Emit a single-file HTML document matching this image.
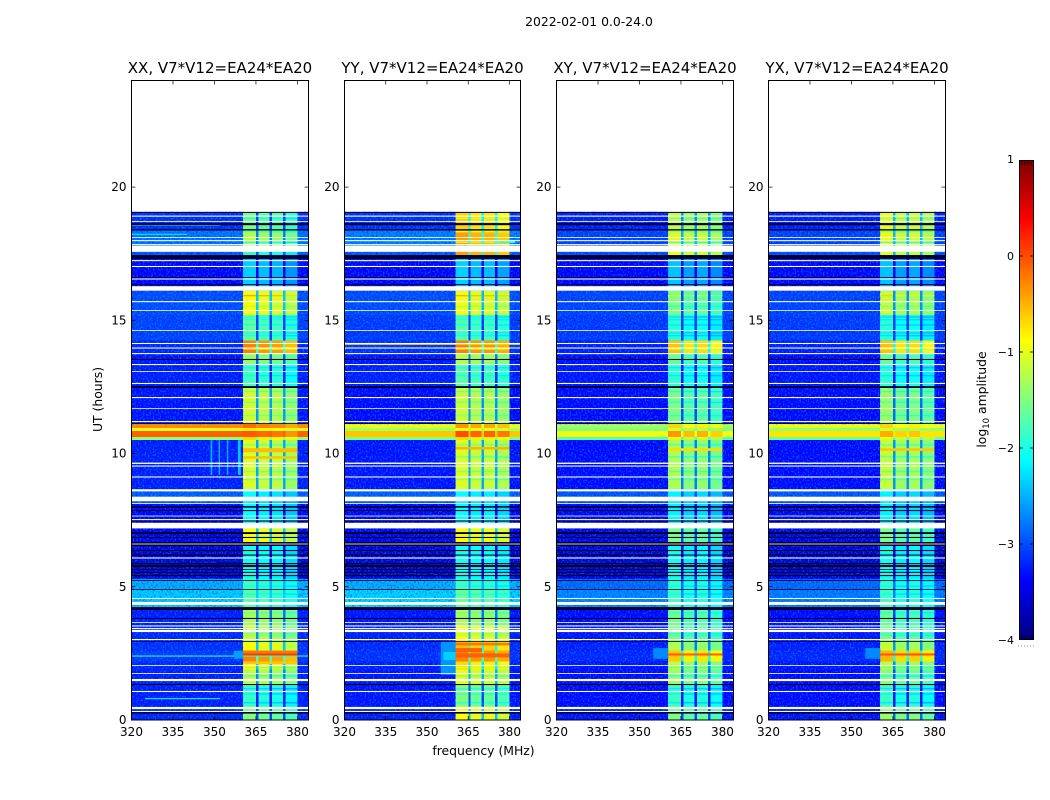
<!DOCTYPE html>
<html>
<head>
<meta charset="utf-8">
<title>2022-02-01 0.0-24.0</title>
<style>
html,body{margin:0;padding:0;background:#fff;}
svg{display:block;}
text{font-family:"DejaVu Sans","Liberation Sans",sans-serif;fill:#000;}
</style>
</head>
<body>
<svg id="chart" xmlns="http://www.w3.org/2000/svg" width="1050" height="800" viewBox="0 0 1050 800">
<defs>
<filter id="speckleLight" x="0" y="0" width="1" height="1" color-interpolation-filters="sRGB" filterUnits="objectBoundingBox">
<feTurbulence type="fractalNoise" baseFrequency="0.6 0.55" numOctaves="1" seed="4"/>
<feColorMatrix type="matrix" values="0 0 0 0 0  0 0 0 0 0.7  0 0 0 0 1  5 0 0 0 -2.4"/>
</filter>
<filter id="speckleDark" x="0" y="0" width="1" height="1" color-interpolation-filters="sRGB" filterUnits="objectBoundingBox">
<feTurbulence type="fractalNoise" baseFrequency="0.55 0.6" numOctaves="1" seed="9"/>
<feColorMatrix type="matrix" values="0 0 0 0 0  0 0 0 0 0  0 0 0 0 0.95  5 0 0 0 -2.5"/>
</filter>
<linearGradient id="jetGradient" x1="0" y1="1" x2="0" y2="0"></linearGradient>
</defs>
<text x="589" y="26" font-size="12.4" text-anchor="middle">2022-02-01 0.0-24.0</text>
<text x="483.5" y="755" font-size="12.4" text-anchor="middle">frequency (MHz)</text>
<text x="0" y="0" font-size="12.4" text-anchor="middle" transform="translate(102,399.5) rotate(-90)">UT (hours)</text>
<text x="0" y="0" font-size="12.4" text-anchor="middle" transform="translate(986,399.5) rotate(-90)">log<tspan font-size="8.5" dy="3">10</tspan><tspan dy="-3"> amplitude</tspan></text>
<g id="panels"></g>
<g id="colorbar"></g>
</svg>
<script>
/* ---- axes ---- */
const panelNames = ['XX','YY','XY','YX'];
const baselineLabel = 'V7*V12=EA24*EA20';
const freqTicks = [320,335,350,365,380];
const timeTicks = [0,5,10,15,20];
const colorTicks = [1,0,-1,-2,-3,-4];

/* ---- time zones (UT hours) ---- */
const zoneEdges = [0,0.5,1.3,1.9,2.2,2.6,3.0,3.5,4.2,4.9,5.3,6.53,7.19,8.1,8.38,8.66,10.5,10.62,10.84,10.95,11.1,12.5,13.35,13.75,14.25,15.2,16.1,17.3,17.57,18.4,19.07];

/* ---- log10 amplitude outside the passband, per zone ---- */
const bgXX = [-3.2,-3.25,-3.25,-3.2,-3.1,-3.15,-3.2,-3.25,-2.35,-2.5,-3.6,-3.5,-3.4,-2.95,-2.9,-3.25,-1.4,-0.1,-1.0,-0.3,-3.3,-3.25,-3.3,-3.2,-3.05,-3.0,-3.4,-2.95,-2.8,-3.15];
const bgYY = [-3.25,-3.3,-3.3,-3.25,-3.15,-3.2,-3.25,-3.3,-2.3,-2.5,-3.6,-3.5,-3.4,-2.95,-2.9,-3.3,-1.5,-0.6,-1.3,-1.0,-3.35,-3.25,-3.3,-3.15,-3.1,-3.0,-3.4,-2.95,-2.75,-3.15];
const bgXY = [-3.3,-3.35,-3.35,-3.3,-3.2,-3.25,-3.3,-3.35,-2.7,-2.85,-3.6,-3.55,-3.4,-3.0,-2.95,-3.35,-1.7,-0.95,-1.5,-1.3,-3.35,-3.3,-3.35,-3.25,-3.1,-3.05,-3.4,-3.0,-3.05,-3.25];
const bgYX = [-3.3,-3.35,-3.35,-3.3,-3.2,-3.25,-3.3,-3.35,-2.75,-2.85,-3.6,-3.55,-3.4,-3.0,-2.95,-3.35,-1.6,-0.75,-1.4,-1.0,-3.35,-3.3,-3.35,-3.25,-3.1,-3.05,-3.4,-3.0,-3.05,-3.25];

/* ---- log10 amplitude inside the passband, per zone ---- */
const bandXX = [-1.6,-1.95,-1.3,-1.0,-0.35,-1.0,-1.25,-1.4,-1.8,-1.9,-2.1,-1.0,-2.2,-2.3,-2.2,-1.15,-0.8,-0.15,-0.9,-0.25,-1.2,-1.9,-1.5,-0.35,-1.75,-1.0,-2.45,-2.0,-1.35,-1.65];
const bandYY = [-1.0,-1.6,-1.1,-0.8,-0.35,-0.65,-1.0,-1.4,-1.7,-1.9,-2.1,-0.95,-2.2,-2.3,-2.2,-1.15,-0.8,-0.1,-1.0,-0.45,-1.25,-1.8,-1.35,-0.35,-1.8,-1.05,-2.45,-0.5,-0.5,-0.75];
const bandXY = [-1.6,-1.9,-1.45,-1.3,-0.7,-1.35,-1.6,-1.65,-1.9,-1.95,-2.1,-1.6,-2.25,-2.3,-2.25,-1.35,-1.05,-0.45,-1.2,-0.75,-1.6,-2.0,-1.7,-0.65,-2.0,-1.6,-2.5,-1.0,-1.1,-1.25];
const bandYX = [-1.45,-1.9,-1.55,-1.3,-0.6,-1.25,-1.6,-1.7,-1.9,-1.95,-2.1,-1.6,-2.25,-2.3,-2.25,-1.25,-1.05,-0.55,-1.2,-0.75,-1.45,-2.0,-1.7,-0.65,-2.0,-1.25,-2.5,-1.1,-1.05,-1.05];

/* ---- frequency structure (MHz) ---- */
const freqEdges = [320,360.4,365.0,365.9,369.9,370.8,374.8,375.7,380,384];
const columnKinds = ['bg','sb0','notch','sb1','notch','sb2','notch','sb3','bg'];
const offsetXX = [0.1,0.0,-0.05,-0.2];
const offsetYY = [0.1,0.0,0.0,-0.12];
const offsetXY = [0.08,-0.1,-0.05,-0.2];
const offsetYX = [0.08,-0.1,-0.05,-0.2];
const notchDrop = [1.4];

/* ---- passband row stripes: UT hours and dimming in log10 amplitude ---- */
const stripeStart = [0.62,0.95,1.15,1.62,1.95,2.95,3.15,3.22,4.0,4.7,5.0,5.2,9.0,9.3,9.85,10.3,11.4,11.9,12.3,12.9,13.2,13.9,14.4,14.5,14.8,15.0,15.1,15.5,15.9,17.9,18.3,18.6,18.8];
const stripeEnd = [0.68,1.0,1.2,1.68,2.0,3.0,3.18,3.27,4.05,4.75,5.05,5.25,9.05,9.35,9.9,10.35,11.45,11.95,12.35,12.95,13.25,13.95,14.45,14.55,14.85,15.05,15.15,15.55,15.95,17.95,18.35,18.65,18.85];
const stripeDrop = [0.4,0.35,0.4,0.45,0.35,0.3,0.4,0.35,0.3,0.3,0.25,0.3,0.4,0.4,0.5,0.45,0.35,0.4,0.45,0.3,0.3,0.5,0.35,0.3,0.3,0.3,0.35,0.3,-0.5,0.7,0.5,0.4,0.4];

/* ---- missing (white) and near-zero (black) integrations, UT hours ---- */
const whiteStart = [18.89,18.69,18.09,17.97,17.82,17.57,17.22,17.0,16.53,16.11,15.68,15.35,14.6,14.11,13.94,13.73,13.32,13.06,12.61,12.08,11.67,11.18,9.61,9.51,9.10,8.58,8.21,8.11,7.64,7.50,7.19,6.59,6.06,4.54,4.32,3.64,3.51,3.41,3.30,3.0,2.03,1.73,1.46,1.05,0.41,0.30];
const whiteEnd = [18.93,18.72,18.12,18.01,17.86,17.80,17.26,17.04,16.57,16.28,15.72,15.38,14.63,14.15,13.98,13.77,13.36,13.09,12.65,12.12,11.70,11.22,9.66,9.55,9.14,8.66,8.38,8.14,7.67,7.54,7.40,6.62,6.10,4.58,4.43,3.67,3.55,3.45,3.38,3.04,2.06,1.76,1.54,1.09,0.49,0.34];
const blackStart = [19.03,18.57,18.37,17.30,16.59,16.32,13.51,12.46,11.11,7.97,7.84,7.45,6.98,6.83,6.53,6.34,6.17,5.85,5.74,5.63,5.52,5.40,5.22,4.88,4.13,3.79,2.93,1.31,0.24];
const blackEnd = [19.07,18.65,18.42,17.45,16.62,16.36,13.55,12.53,11.14,8.03,7.88,7.49,7.05,6.87,6.68,6.38,6.21,5.89,5.82,5.66,5.56,5.44,5.25,4.91,4.24,3.83,2.96,1.35,0.30];

/* ---- localized features ---- */
const featurePanel = [0,0,0,0,0,0,0,0,0,0,0,0,0,0,1,1,1,1,1,1,1,1,2,2,2,3,3,3];
const featureT0 = [2.38,0.78,9.2,9.2,9.2,9.2,18.2,18.55,10.05,9.8,2.3,2.42,2.5,2.1,1.7,2.25,14.08,17.9,2.55,2.35,10.15,2.8,2.3,2.42,10.1,2.3,2.42,10.1];
const featureT1 = [2.42,0.82,10.5,10.5,10.5,10.5,18.25,18.6,10.2,9.9,2.6,2.5,2.6,2.2,2.95,2.55,14.13,18.0,2.7,2.5,10.25,2.9,2.7,2.5,10.2,2.7,2.5,10.2];
const featureF0 = [320,325,348.6,351.5,354.5,358.5,320,320,360.4,360.4,357,360.4,360.4,360.4,355,356,320,376,360.4,360.4,360.4,360.4,355,360.4,360.4,355,360.4,360.4];
const featureF1 = [384,352,349.2,352,355,359.5,340,352,380,380,360.4,380,380,380,360.4,360.4,384,382,370,380,380,380,360.4,380,380,360.4,380,380];
const featureLevel = [-1.9,-2.0,-2.5,-2.5,-2.5,-2.4,-2.3,-2.2,-0.55,-0.6,-2.6,0.1,-0.2,-0.6,-2.65,-2.35,-0.7,-1.9,-0.1,-0.1,-0.5,-0.2,-2.7,-0.1,-0.7,-2.7,-0.05,-0.6];

/* ---- layout ---- */
const panelLeft = [131.5,344.5,556.5,768.5];
const panelWidth = [177,176,177,177];
const plotTop = 80.5, plotBottom = 720;
const freqMin = 320, freqMax = 384, timeMin = 0, timeMax = 24;
const cbX = 1019, cbW = 15, cbTop = 160, cbBottom = 640, cbMin = -4, cbMax = 1;
const NS = 'http://www.w3.org/2000/svg';

function xScale(p, f){ return panelLeft[p] + (f - freqMin) / (freqMax - freqMin) * panelWidth[p]; }
function yScale(t){ return plotBottom - (t - timeMin) / (timeMax - timeMin) * (plotBottom - plotTop); }
function cbScale(v){ return cbBottom - (v - cbMin) / (cbMax - cbMin) * (cbBottom - cbTop); }

function jet(level){
  const u = Math.max(0, Math.min(1, (level - cbMin) / (cbMax - cbMin)));
  const ch = function(c){ return Math.round(255 * Math.max(0, Math.min(1, 1.5 - Math.abs(4 * u - c)))); };
  return 'rgb(' + ch(3) + ',' + ch(2) + ',' + ch(1) + ')';
}
function make(tag, attrs, parent){
  const el = document.createElementNS(NS, tag);
  for (const k in attrs) el.setAttribute(k, attrs[k]);
  parent.appendChild(el);
  return el;
}
function zoneOf(t){
  for (let z = 0; z < zoneEdges.length - 1; z++){
    if (t >= zoneEdges[z] && t < zoneEdges[z+1]) return z;
  }
  return zoneEdges.length - 2;
}

const bgs = [bgXX,bgYY,bgXY,bgYX];
const bands = [bandXX,bandYY,bandXY,bandYX];
const offsets = [offsetXX,offsetYY,offsetXY,offsetYX];
const root = document.getElementById('panels');

panelNames.forEach(function(name, p){
  const plotW = panelWidth[p];
  const g = make('g', {}, root);
  
  

  /* heatmap cells */
  for (let z = 0; z < zoneEdges.length - 1; z++){
    for (let c = 0; c < columnKinds.length; c++){
      const kind = columnKinds[c];
      let level;
      if (kind === 'bg') level = bgs[p][z];
      else if (kind === 'notch') level = Math.max(bands[p][z] - notchDrop[0], bgs[p][z]);
      else level = bands[p][z] + offsets[p][+kind.charAt(2)];
      const x0 = xScale(p, freqEdges[c]), x1 = xScale(p, freqEdges[c+1]);
      const y0 = yScale(zoneEdges[z+1]), y1 = yScale(zoneEdges[z]);
      const cell = make('rect', {x:x0, y:y0, width:x1-x0, height:y1-y0, fill:jet(level), 'shape-rendering':'crispEdges'}, g);
      
      
    }
    /* receiver noise texture on quiet out-of-band channels */
    if (bgs[p][z] < -2){
      [[320,360.4],[380,384]].forEach(function(r){
        [['speckleLight',0.42],['speckleDark',0.4]].forEach(function(s){
          const t = make('rect', {x:xScale(p,r[0]), y:yScale(zoneEdges[z+1]), width:xScale(p,r[1])-xScale(p,r[0]), height:yScale(zoneEdges[z])-yScale(zoneEdges[z+1]), filter:'url(#'+s[0]+')', opacity:s[1]}, g);
          
          
        });
      });
    }
  }

  /* passband row stripes */
  stripeStart.forEach(function(t0, i){
    const z = zoneOf(t0);
    columnKinds.forEach(function(kind, c){
      if (kind.indexOf('sb') !== 0) return;
      const lv = bands[p][z] + offsets[p][+kind.charAt(2)] - stripeDrop[i];
      const s = make('rect', {x:xScale(p,freqEdges[c]), y:yScale(stripeEnd[i]), width:xScale(p,freqEdges[c+1])-xScale(p,freqEdges[c]), height:yScale(t0)-yScale(stripeEnd[i]), fill:jet(lv)}, g);
      
      
    });
  });

  /* localized features */
  featurePanel.forEach(function(fp, i){
    if (fp !== p) return;
    const fx0 = xScale(p, featureF0[i]), fx1 = xScale(p, featureF1[i]);
    const fy0 = yScale(featureT1[i]), fy1 = yScale(featureT0[i]);
    const f = make('rect', {x:fx0, y:fy0, width:fx1-fx0, height:fy1-fy0, fill:jet(featureLevel[i])}, g);
    
    
  });

  /* black rows */
  blackStart.forEach(function(t0, i){
    const b = make('rect', {x:xScale(p,freqMin), y:yScale(blackEnd[i]), width:plotW, height:yScale(t0)-yScale(blackEnd[i]), fill:'#00002a'}, g);
    
    
  });
  /* white rows */
  whiteStart.forEach(function(t0, i){
    const w = make('rect', {x:xScale(p,freqMin), y:yScale(whiteEnd[i]), width:plotW, height:yScale(t0)-yScale(whiteEnd[i]), fill:'#fff'}, g);
    
    
  });

  /* frame */
  const frame = make('rect', {x:panelLeft[p], y:plotTop, width:plotW, height:plotBottom-plotTop, fill:'none', stroke:'#000', 'stroke-width':1}, g);
  
  

  /* x ticks */
  freqTicks.forEach(function(f){
    const x = xScale(p, f);
    const a = make('line', {x1:x, x2:x, y1:plotBottom, y2:plotBottom-4, stroke:'#000', 'stroke-width':0.7}, g);
    
    
    const b = make('line', {x1:x, x2:x, y1:plotTop, y2:plotTop+4, stroke:'#000', 'stroke-width':0.7}, g);
    
    
    const l = make('text', {x:x, y:plotBottom+16, 'font-size':12, 'text-anchor':'middle'}, g);
    
    
    l.textContent = String(f);
  });
  /* y ticks */
  timeTicks.forEach(function(t){
    const y = yScale(t);
    const a = make('line', {x1:panelLeft[p], x2:panelLeft[p]+4, y1:y, y2:y, stroke:'#000', 'stroke-width':0.7}, g);
    
    
    const b = make('line', {x1:panelLeft[p]+plotW, x2:panelLeft[p]+plotW-4, y1:y, y2:y, stroke:'#000', 'stroke-width':0.7}, g);
    
    
    const l = make('text', {x:panelLeft[p]-5, y:y+4, 'font-size':12, 'text-anchor':'end'}, g);
    
    
    l.textContent = String(t);
  });
  /* title */
  const title = make('text', {x:panelLeft[p]+plotW/2, y:73, 'font-size':15, 'text-anchor':'middle'}, g);
  
  
  title.textContent = name + ', ' + baselineLabel;
});

/* ---- colorbar ---- */
const grad = document.getElementById('jetGradient');
for (let v = cbMin; v <= cbMax + 1e-6; v += 0.125){
  make('stop', {offset:(v-cbMin)/(cbMax-cbMin), 'stop-color':jet(v)}, grad);
}
const cb = document.getElementById('colorbar');
const bar = make('rect', {x:cbX, y:cbTop, width:cbW, height:cbBottom-cbTop, fill:'url(#jetGradient)'}, cb);


const barFrame = make('rect', {x:cbX+0.5, y:cbTop+0.5, width:cbW-1, height:cbBottom-cbTop-1, fill:'none', stroke:'#000', 'stroke-width':1}, cb);


colorTicks.forEach(function(v){
  const y = cbScale(v);
  if (v > cbMin && v < cbMax){
    const a = make('line', {x1:cbX, x2:cbX+4, y1:y, y2:y, stroke:'#000', 'stroke-width':0.8}, cb);
    
    
    const b = make('line', {x1:cbX+cbW, x2:cbX+cbW-4, y1:y, y2:y, stroke:'#000', 'stroke-width':0.8}, cb);
    
    
  }
  const l = make('text', {x:cbX-5, y:y+ (v===cbMax?3:4), 'font-size':11, 'text-anchor':'end'}, cb);
  
  
  l.textContent = (v < 0 ? '\u2212' + Math.abs(v) : String(v));
});
[1022,1025,1028,1031].forEach(function(x){
  const a = make('line', {x1:x, x2:x, y1:cbTop, y2:cbTop+5, stroke:'#000', 'stroke-width':0.6}, cb);
  
  
  const b = make('line', {x1:x, x2:x, y1:cbBottom, y2:cbBottom-5, stroke:'#000', 'stroke-width':0.6}, cb);
  
  
});
const dots = make('line', {x1:1018, x2:1035, y1:646, y2:646, stroke:'#888', 'stroke-width':1, 'stroke-dasharray':'1 2'}, cb);


</script>
</body>
</html>
